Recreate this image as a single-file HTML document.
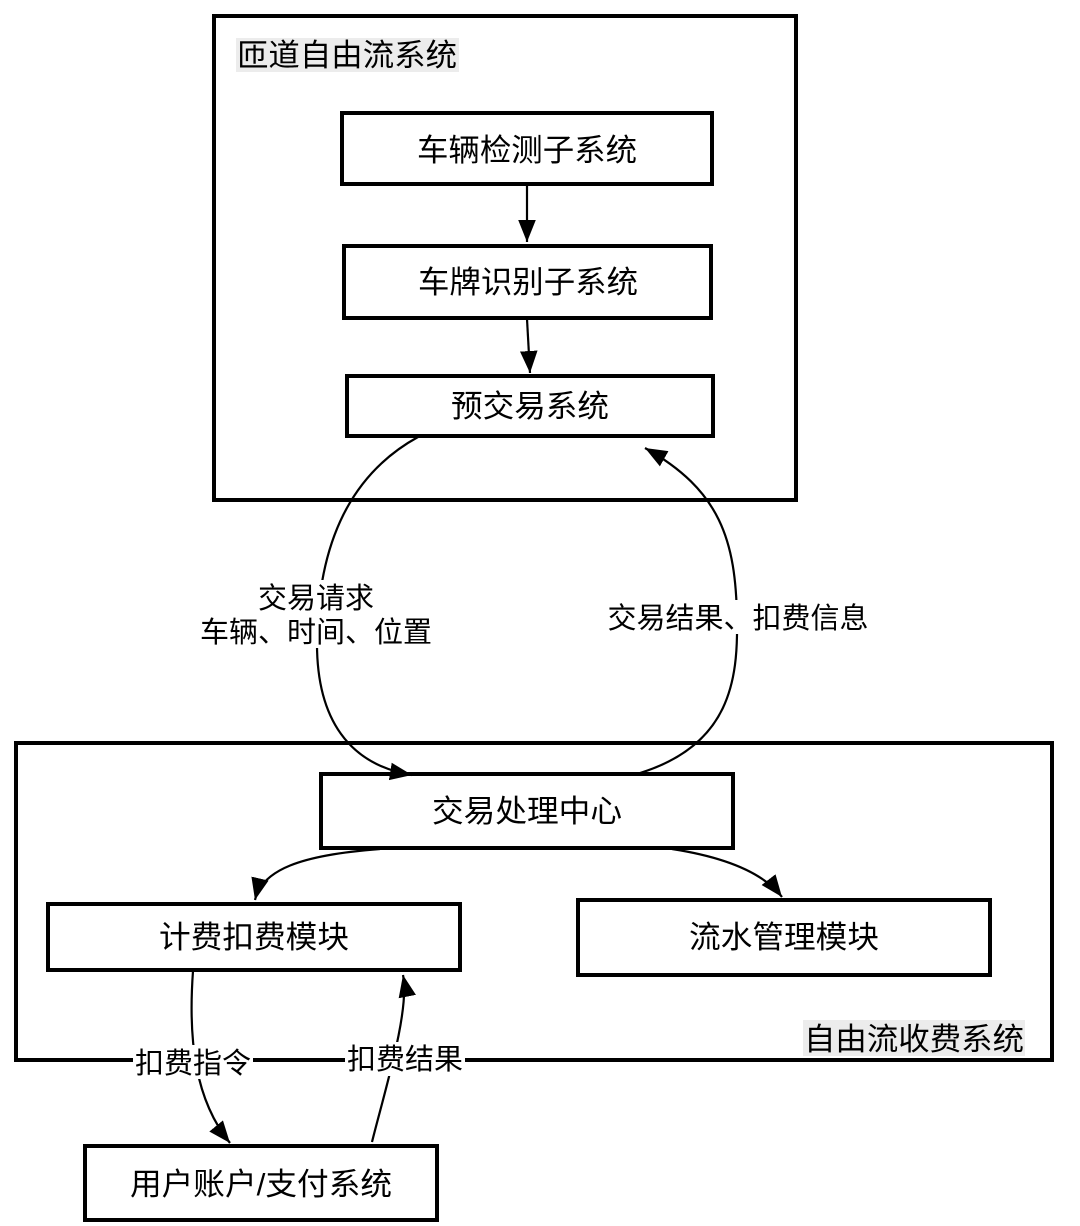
<!DOCTYPE html>
<html><head><meta charset="utf-8"><style>
html,body{margin:0;padding:0;background:#fff;}
svg{display:block;}
text{font-family:"Liberation Sans","Noto Sans CJK SC",sans-serif;fill:#000;}
</style></head><body>
<svg width="1080" height="1226" viewBox="0 0 1080 1226" xmlns="http://www.w3.org/2000/svg">
<defs>
<marker id="a2" viewBox="0 0 10 10" refX="10" refY="5" markerWidth="22" markerHeight="22" orient="auto" markerUnits="userSpaceOnUse">
<path d="M0,1 L10,5 L0,9 z" fill="#000"/>
</marker>
</defs>
<rect x="214" y="16" width="582" height="484" fill="none" stroke="#000" stroke-width="4"/>
<rect x="236" y="38" width="223" height="34" fill="#ececec"/>
<text x="237" y="66" font-size="31" textLength="220" lengthAdjust="spacingAndGlyphs">匝道自由流系统</text>
<rect x="16" y="743" width="1036" height="317" fill="none" stroke="#000" stroke-width="4"/>
<rect x="803" y="1020" width="222" height="36" fill="#ececec"/>
<text x="804" y="1050" font-size="31" textLength="220" lengthAdjust="spacingAndGlyphs">自由流收费系统</text>

<g fill="#fff" stroke="#000" stroke-width="4">
<rect x="342" y="113" width="370" height="71"/>
<rect x="344" y="246" width="367" height="72"/>
<rect x="347" y="376" width="366" height="60"/>
<rect x="321" y="774" width="412" height="74"/>
<rect x="48" y="904" width="412" height="66"/>
<rect x="578" y="900" width="412" height="75"/>
<rect x="85" y="1146" width="352" height="74"/>
</g>
<g font-size="31" text-anchor="middle" lengthAdjust="spacingAndGlyphs">
<text x="527" y="161" textLength="220" lengthAdjust="spacingAndGlyphs">车辆检测子系统</text>
<text x="528" y="293" textLength="220" lengthAdjust="spacingAndGlyphs">车牌识别子系统</text>
<text x="530" y="417" textLength="158" lengthAdjust="spacingAndGlyphs">预交易系统</text>
<text x="527" y="822" textLength="190" lengthAdjust="spacingAndGlyphs">交易处理中心</text>
<text x="254" y="948" textLength="190" lengthAdjust="spacingAndGlyphs">计费扣费模块</text>
<text x="784" y="948" textLength="190" lengthAdjust="spacingAndGlyphs">流水管理模块</text>
<text x="261" y="1195" textLength="262" lengthAdjust="spacingAndGlyphs">用户账户/支付系统</text>
</g>

<g fill="none" stroke="#000" stroke-width="2.2">
<path d="M527,185 L527,242" marker-end="url(#a2)"/>
<path d="M527,319 L530,373" marker-end="url(#a2)"/>
<path d="M418,437 C340,480 318,560 317,640 C316,720 350,765 412,775" marker-end="url(#a2)"/>
<path d="M640,773 C730,745 738,680 737,620 C736,540 720,490 645,448" marker-end="url(#a2)"/>
<path d="M380,849 C300,855 262,870 255,900" marker-end="url(#a2)"/>
<path d="M672,849 C730,858 765,875 782,897" marker-end="url(#a2)"/>
<path d="M193,971 C188,1040 195,1100 230,1143" marker-end="url(#a2)"/>
<path d="M372,1142 C385,1090 410,1010 403,975" marker-end="url(#a2)"/>
</g>

<g font-size="29" text-anchor="middle">
<rect x="255" y="580" width="122" height="34" fill="#fff"/>
<rect x="198" y="614" width="236" height="34" fill="#fff"/>
<text x="316" y="608">交易请求</text>
<text x="316" y="642">车辆、时间、位置</text>
<rect x="606" y="600" width="264" height="34" fill="#fff"/>
<text x="738" y="628">交易结果、扣费信息</text>
<rect x="133" y="1045" width="120" height="34" fill="#fff"/>
<text x="193" y="1073">扣费指令</text>
<rect x="345" y="1042" width="120" height="34" fill="#fff"/>
<text x="405" y="1069">扣费结果</text>
</g>
</svg>
</body></html>
